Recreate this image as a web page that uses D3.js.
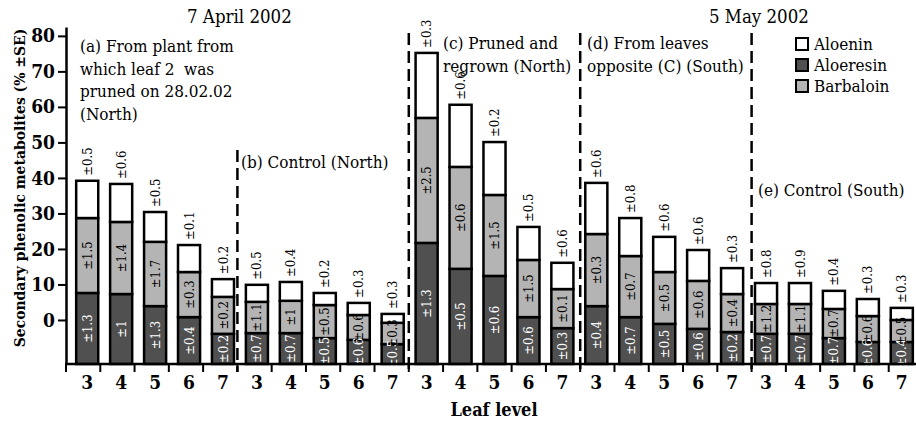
<!DOCTYPE html>
<html>
<head>
<meta charset="utf-8">
<script src="https://cdn.jsdelivr.net/npm/d3@7/dist/d3.min.js"></script>
<style>
  body { margin: 0; background: #fff; }
  svg text { font-family: "DejaVu Serif Condensed", "DejaVu Serif", serif; font-stretch: condensed; }
</style>
</head>
<body>
<div class="chart"></div>
<script>
// panels and leaf levels
var panels = ["a", "b", "c", "d", "e"];
var leafLevels = [3, 4, 5, 6, 7];
var seriesNames = ["Aloenin", "Aloeresin", "Barbaloin"];

// stacked segment heights (axis units), panel a..e, leaf 3..7
var aloeresin = [20.0, 19.7, 16.3, 13.2, 8.5,
                 8.7, 8.7, 7.3, 6.8, 5.6,
                 34.1, 26.8, 24.8, 13.2, 10.1,
                 16.3, 13.2, 11.3, 9.9, 9.0,
                 8.5, 8.5, 7.3, 6.2, 6.2];
var barbaloin = [21.1, 20.3, 18.1, 12.7, 10.4,
                 8.8, 9.1, 9.3, 7.0, 6.0,
                 35.2, 28.7, 22.8, 16.1, 11.0,
                 20.3, 17.2, 14.6, 13.5, 10.7,
                 8.4, 8.4, 8.2, 7.3, 6.2];
var aloenin = [10.5, 10.7, 8.4, 7.6, 5.0,
               4.8, 5.3, 3.4, 3.4, 2.5,
               18.3, 17.5, 14.9, 9.3, 7.4,
               14.4, 10.7, 9.9, 8.7, 7.3,
               5.9, 5.9, 5.1, 4.8, 3.4];

// standard error labels
var seAloeresin = ["±1.3", "±1", "±1.3", "±0.4", "±0.2",
                   "±0.7", "±0.7", "±0.5", "±0.6", "±0.5",
                   "±1.3", "±0.5", "±0.6", "±0.6", "±0.3",
                   "±0.4", "±0.7", "±0.5", "±0.6", "±0.2",
                   "±0.7", "±0.7", "±0.7", "±0.6", "±0.4"];
var seBarbaloin = ["±1.5", "±1.4", "±1.7", "±0.3", "±0.2",
                   "±1.1", "±1", "±0.5", "±0.6", "±0.3",
                   "±2.5", "±0.6", "±1.5", "±1.5", "±0.1",
                   "±0.3", "±0.7", "±0.5", "±0.6", "±0.4",
                   "±1.2", "±1.1", "±0.7", "±0.6", "±0.5"];
var seAloenin = ["±0.5", "±0.6", "±0.5", "±0.1", "±0.2",
                 "±0.5", "±0.4", "±0.2", "±0.3", "±0.3",
                 "±0.3", "±0.6", "±0.2", "±0.5", "±0.6",
                 "±0.6", "±0.8", "±0.6", "±0.6", "±0.3",
                 "±0.8", "±0.9", "±0.4", "±0.3", "±0.3"];

var yTicks = [0, 10, 20, 30, 40, 50, 60, 70, 80];
var yFloor = -12.4;   // x axis sits below the "0" tick in the original
var yTop = 82.5;

var dateTitles = [{text: "7 April 2002", x: 187, y: 23},
                  {text: "5 May 2002", x: 709, y: 23}];

var panelNotes = [
	{x: 80, y: 52, lines: ["(a) From plant from", "which leaf 2  was", "pruned on 28.02.02", "(North)"]},
	{x: 241, y: 168, lines: ["(b) Control (North)"]},
	{x: 443, y: 49, lines: ["(c) Pruned and", "regrown (North)"]},
	{x: 587, y: 49, lines: ["(d) From leaves", "opposite (C) (South)"]},
	{x: 758, y: 196, lines: ["(e) Control (South)"]}
];

var colors = {Aloenin: "#ffffff", Aloeresin: "#505050", Barbaloin: "#b4b4b4"};

var w = 916;
var h = 421;

var svg = d3.select('.chart').append('svg')
	.attr('width', w)
	.attr('height', h);

// build rows
var rows = [];
panels.forEach(function(p, pi) {
	leafLevels.forEach(function(l, li) {
		var i = pi * 5 + li;
		rows.push({key: p + l, panel: p, leaf: l,
			Aloeresin: aloeresin[i], Barbaloin: barbaloin[i], Aloenin: aloenin[i],
			seA: seAloeresin[i], seB: seBarbaloin[i], seN: seAloenin[i]});
	});
});

var x = d3.scaleBand()
	.domain(rows.map(function(d) { return d.key; }))
	.range([66, 923])
	.paddingInner(0.35)
	.paddingOuter(0.3);

var y = d3.scaleLinear()
	.domain([yFloor, yTop])
	.range([364, 27]);

var stack = d3.stack()
	.keys(["Aloeresin", "Barbaloin", "Aloenin"])
	.offset(function(series, order) {
		d3.stackOffsetNone(series, order);
		series.forEach(function(s) {
			s.forEach(function(pt) { pt[0] += yFloor; pt[1] += yFloor; });
		});
	});

var stacked = stack(rows);

/*---------------------------DIVIDERS--------------------------*/

var x0 = 66;
var tickStep = (923 - 66) / 25;
[1, 2, 3, 4].forEach(function(k) {
	var xx = x0 + k * 5 * tickStep;
	svg.append('line')
		.attr('x1', xx).attr('x2', xx)
		.attr('y1', k === 1 ? 150 : 33)
		.attr('y2', 372)
		.attr('stroke', 'black')
		.attr('stroke-width', 2.5)
		.attr('stroke-dasharray', '12,6');
});

/*---------------------------BARS--------------------------*/

var layer = svg.selectAll('.layer').data(stacked)
	.enter().append('g')
	.attr('class', 'layer')
	.attr('fill', function(d) { return colors[d.key]; });

layer.selectAll('rect').data(function(d) { return d; })
	.enter().append('rect')
	.attr('x', function(d) { return x(d.data.key); })
	.attr('y', function(d) { return y(d[1]); })
	.attr('width', x.bandwidth())
	.attr('height', function(d) { return y(d[0]) - y(d[1]); })
	.attr('stroke', 'black')
	.attr('stroke-width', 2.5);

/*---------------------------SE LABELS--------------------------*/

var labelSpecs = [
	{layer: 0, field: 'seA', fill: 'white'},
	{layer: 1, field: 'seB', fill: 'black'}
];

labelSpecs.forEach(function(spec) {
	svg.append('g').selectAll('text').data(stacked[spec.layer])
		.enter().append('text')
		.attr('transform', function(d) {
			var cx = x(d.data.key) + x.bandwidth() / 2;
			var cy = (y(d[0]) + y(d[1])) / 2;
			return 'translate(' + cx + ',' + cy + ') rotate(-90)';
		})
		.attr('text-anchor', 'middle')
		.attr('dy', '0.35em')
		.attr('font-size', 13)
		.attr('fill', spec.fill)
		.text(function(d) { return d.data[spec.field]; });
});

svg.append('g').selectAll('text').data(stacked[2])
	.enter().append('text')
	.attr('transform', function(d) {
		var cx = x(d.data.key) + x.bandwidth() / 2;
		return 'translate(' + cx + ',' + (y(d[1]) - 5) + ') rotate(-90)';
	})
	.attr('text-anchor', 'start')
	.attr('dy', '0.35em')
	.attr('font-size', 13)
	.attr('fill', 'black')
	.text(function(d) { return d.data.seN; });

/*---------------------------AXES--------------------------*/

var yAxis = svg.append('g')
	.attr('transform', 'translate(66,0)')
	.call(d3.axisLeft(y).tickValues(yTicks).tickSize(8).tickSizeOuter(0).tickPadding(3));

yAxis.select('.domain').attr('stroke-width', 2.5);
yAxis.selectAll('.tick line').attr('stroke-width', 2);
yAxis.selectAll('.tick text')
	.attr('font-size', 19)
	.attr('font-weight', 'bold');

var xAxis = svg.append('g')
	.attr('transform', 'translate(0,364)')
	.call(d3.axisBottom(x).tickSize(0).tickPadding(12)
		.tickFormat(function(k) { return k.slice(1); }));

xAxis.select('.domain').remove();
xAxis.selectAll('.tick text')
	.attr('font-size', 19)
	.attr('font-weight', 'bold');

svg.append('line')
	.attr('x1', 65).attr('x2', w)
	.attr('y1', 364).attr('y2', 364)
	.attr('stroke', 'black')
	.attr('stroke-width', 2.5);

svg.append('g').selectAll('line').data(d3.range(25))
	.enter().append('line')
	.attr('x1', function(i) { return x0 + i * tickStep; })
	.attr('x2', function(i) { return x0 + i * tickStep; })
	.attr('y1', 364).attr('y2', 372)
	.attr('stroke', 'black')
	.attr('stroke-width', 2);

svg.append('text')
	.attr('x', 494).attr('y', 416)
	.attr('text-anchor', 'middle')
	.attr('font-size', 18)
	.attr('font-weight', 'bold')
	.text('Leaf level');

svg.append('text')
	.attr('transform', 'translate(25,188) rotate(-90)')
	.attr('text-anchor', 'middle')
	.attr('font-size', 15.5)
	.attr('font-weight', 'bold')
	.text('Secondary phenolic metabolites (% ±SE)');

/*---------------------------TITLES AND NOTES--------------------------*/

dateTitles.forEach(function(t) {
	svg.append('text')
		.attr('x', t.x).attr('y', t.y)
		.attr('font-size', 18.5)
		.text(t.text);
});

panelNotes.forEach(function(n) {
	var txt = svg.append('text')
		.attr('x', n.x).attr('y', n.y)
		.attr('font-size', 17)
		.attr('xml:space', 'preserve');
	n.lines.forEach(function(line, i) {
		txt.append('tspan')
			.attr('x', n.x)
			.attr('dy', i === 0 ? 0 : 22.5)
			.text(line);
	});
});

/*---------------------------LEGEND--------------------------*/

var legend = svg.append('g')
	.attr('transform', 'translate(796,38)');

legend.selectAll('rect').data(seriesNames)
	.enter().append('rect')
	.attr('x', 0)
	.attr('y', function(d, i) { return i * 21; })
	.attr('width', 12)
	.attr('height', 12)
	.attr('fill', function(d) { return colors[d]; })
	.attr('stroke', 'black')
	.attr('stroke-width', 2);

legend.selectAll('text').data(seriesNames)
	.enter().append('text')
	.attr('x', 18)
	.attr('y', function(d, i) { return i * 21 + 12; })
	.attr('font-size', 17)
	.text(function(d) { return d; });
</script>
</body>
</html>
